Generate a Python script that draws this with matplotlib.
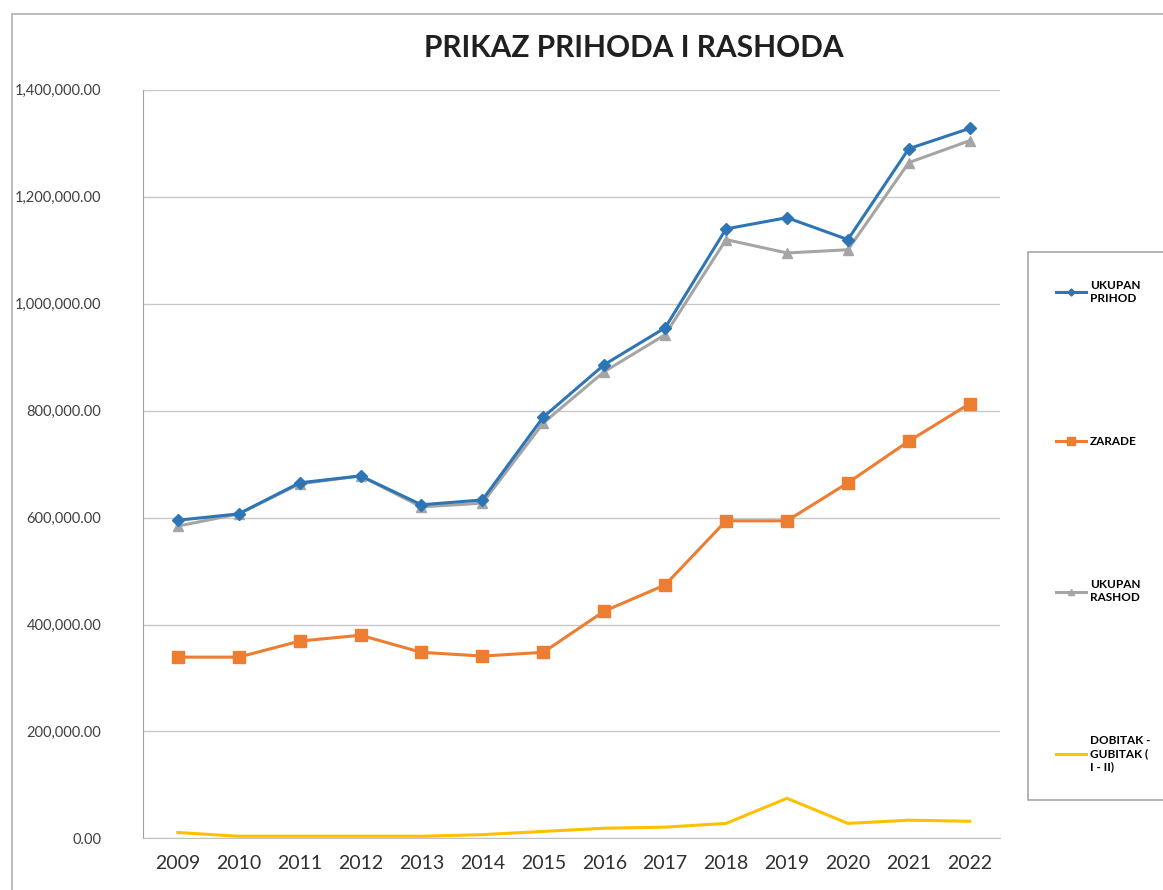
import numpy as np
from matplotlib import pyplot as plt
from matplotlib.patches import Rectangle

# Values
years = ["2009", "2010", "2011", "2012", "2013", "2014", "2015",
         "2016", "2017", "2018", "2019", "2020", "2021", "2022"]
prihod = [595000, 607000, 665000, 678000, 624000, 633000, 788000,
          886000, 955000, 1140000, 1161000, 1120000, 1290000, 1328000]
zarade = [339000, 339000, 369000, 380000, 348000, 341000, 348000,
          425000, 474000, 594000, 594000, 665000, 743000, 813000]
rashod = [584000, 607000, 663000, 678000, 620000, 627000, 777000,
          873000, 942000, 1120000, 1095000, 1101000, 1264000, 1305000]
dobitak = [11000, 4000, 4000, 4000, 4000, 7000, 13000,
           19000, 21000, 28000, 75000, 28000, 34000, 32000]

plt.rcParams['font.family'] = ['Lato', 'DejaVu Sans']

fig = plt.figure(figsize=(11.63, 8.90), dpi=100)
ax = fig.add_axes([0.123, 0.058, 0.737, 0.841])

x = np.arange(len(years))
ax.plot(x, prihod, color='#2E75B6', lw=2.2, marker='D', ms=6, label='UKUPAN\nPRIHOD', zorder=4)
ax.plot(x, zarade, color='#ED7D31', lw=2.2, marker='s', ms=9, label='ZARADE', zorder=3)
ax.plot(x, rashod, color='#A5A5A5', lw=2.2, marker='^', ms=7, label='UKUPAN\nRASHOD', zorder=3)
ax.plot(x, dobitak, color='#FFC000', lw=2.2, label='DOBITAK -\nGUBITAK (\nI - II)', zorder=3)

ax.set_xlim(-0.57, 13.5)
ax.set_ylim(0, 1400000)
ax.set_yticks(np.arange(0, 1400001, 200000))
ax.set_yticklabels([f"{v:,.2f}" for v in np.arange(0, 1400001, 200000)], fontsize=10.5, color='#404040')
ax.set_xticks(x)
ax.set_xticklabels(years, fontsize=14, color='#303030')
ax.tick_params(axis='y', length=0, pad=30)
ax.tick_params(axis='x', length=0, pad=12)
ax.grid(axis='y', color='#c8c8c8', lw=1)
ax.set_axisbelow(True)
for s in ['top', 'right']:
    ax.spines[s].set_visible(False)
ax.spines['left'].set_color('#a0a0a0')
ax.spines['bottom'].set_color('#c0c0c0')

fig.text(0.545, 0.946, "PRIKAZ PRIHODA I RASHODA", ha='center', va='center',
         fontsize=21.5, fontweight='bold', color='#202020')

leg = fig.legend(loc='upper left', bbox_to_anchor=(0.884, 0.717),
                 labelspacing=11.2, handlelength=2.5, markerscale=0.6, frameon=True,
                 fancybox=False, borderpad=2.4, borderaxespad=0, handletextpad=0.35,
                 prop={'weight': 'bold', 'size': 8.5})
leg.get_frame().set_edgecolor('#909090')
leg.get_frame().set_linewidth(1.2)

# outer chart border
fig.patches.append(Rectangle((0.010, -0.01), 1.0, 0.994, transform=fig.transFigure,
                             fill=False, edgecolor='#b0b0b0', lw=1.2))

fig.savefig('out.png', dpi=100)
